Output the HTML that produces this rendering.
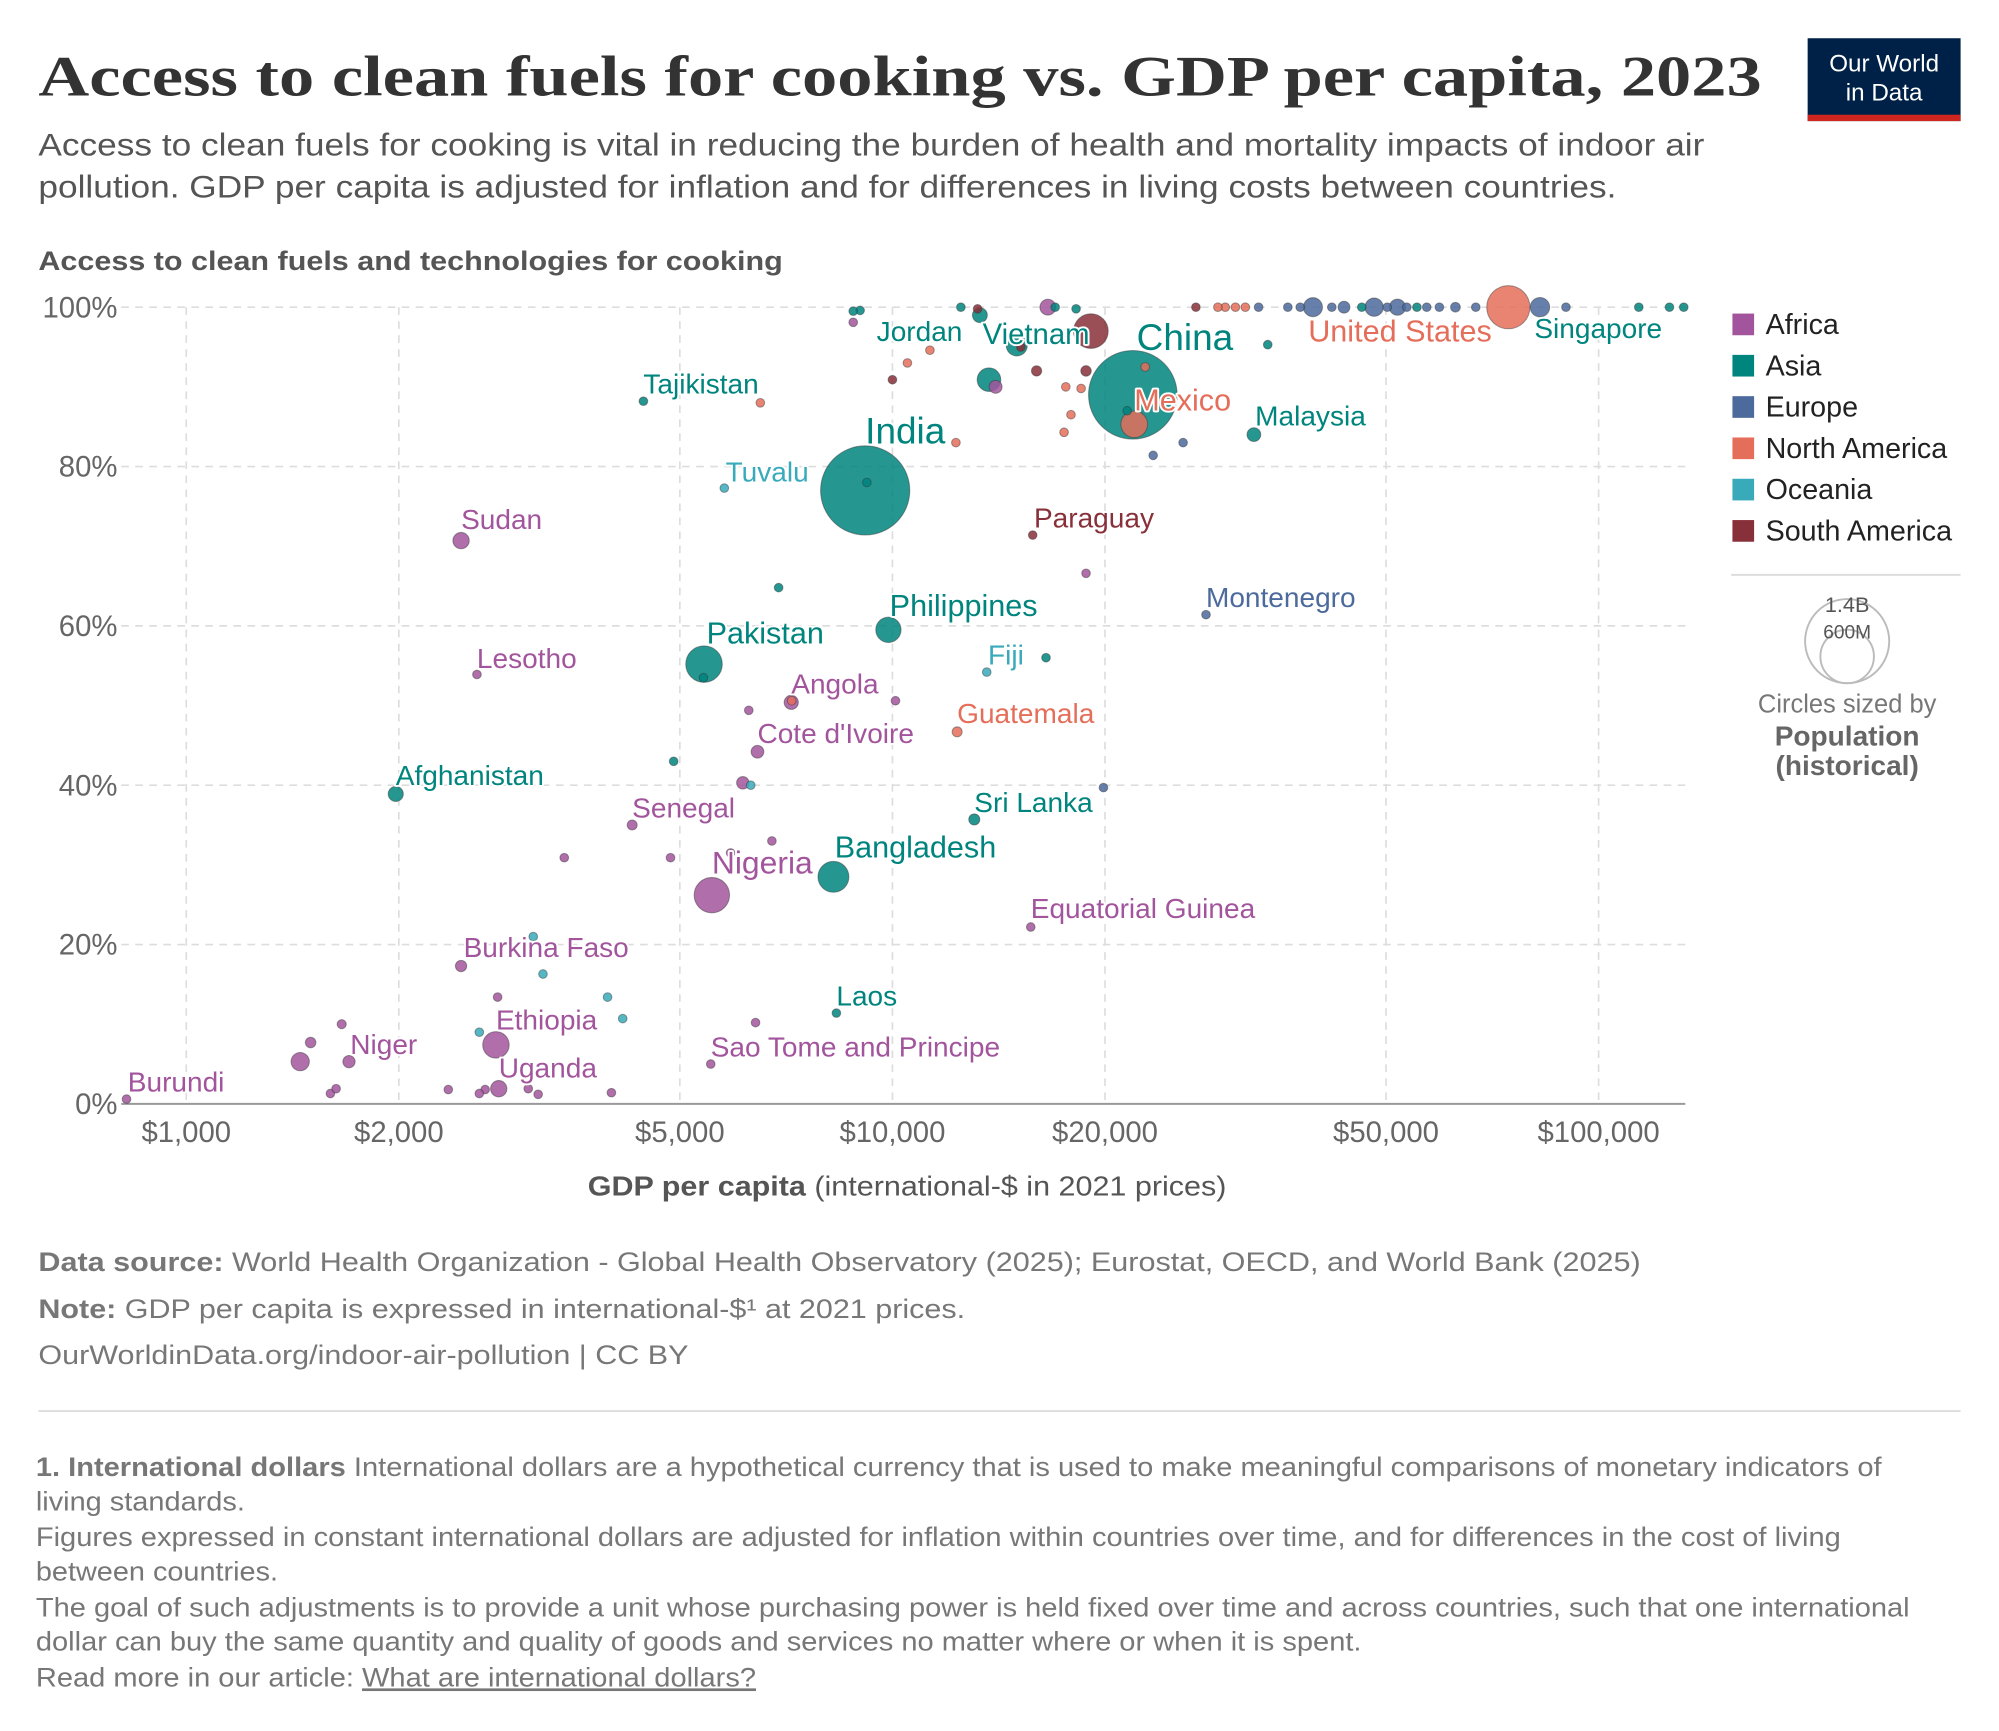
<!DOCTYPE html>
<html><head><meta charset="utf-8"><style>
html,body{margin:0;padding:0;background:#fff;}
svg{display:block;font-family:"Liberation Sans",sans-serif;}
</style></head><body>
<svg id="chart" width="1999" height="1731" viewBox="0 0 1568 1358" xmlns="http://www.w3.org/2000/svg">
<text x="30" y="75" font-family="Liberation Serif, serif" font-weight="bold" font-size="45" fill="#333" textLength="1352" lengthAdjust="spacingAndGlyphs">Access to clean fuels for cooking vs. GDP per capita, 2023</text>
<g>
<rect x="1418" y="30" width="120" height="65" fill="#002147"/>
<rect x="1418" y="90" width="120" height="5" fill="#ce261e"/>
<text x="1478" y="56" text-anchor="middle" font-size="19" fill="#fff">Our World</text>
<text x="1478" y="79" text-anchor="middle" font-size="19" fill="#fff">in Data</text>
</g>
<text x="30" y="122" font-size="25" fill="#555" textLength="1307" lengthAdjust="spacingAndGlyphs">Access to clean fuels for cooking is vital in reducing the burden of health and mortality impacts of indoor air</text>
<text x="30" y="155" font-size="25" fill="#555" textLength="1238" lengthAdjust="spacingAndGlyphs">pollution. GDP per capita is adjusted for inflation and for differences in living costs between countries.</text>
<text x="30" y="212" font-size="21" font-weight="bold" fill="#555" textLength="584" lengthAdjust="spacingAndGlyphs">Access to clean fuels and technologies for cooking</text>
<g id="grid"></g>
<g id="points"></g>
<g id="labels"></g>
<text x="461" y="938" font-size="22" fill="#555" textLength="501" lengthAdjust="spacingAndGlyphs"><tspan font-weight="bold">GDP per capita</tspan> (international-$ in 2021 prices)</text>
<g id="legend"></g>
<line x1="1358" y1="451" x2="1538" y2="451" stroke="#ddd" stroke-width="1.5"/>
<g>
<circle cx="1449" cy="503" r="33" fill="none" stroke="#bbb" stroke-width="1.5"/>
<circle cx="1449" cy="515" r="21" fill="none" stroke="#bbb" stroke-width="1.5"/>
<text x="1449" y="480" text-anchor="middle" font-size="17" fill="#555">1.4B</text>
<text x="1449" y="501" text-anchor="middle" font-size="15" fill="#555">600M</text>
<text x="1449" y="559" text-anchor="middle" font-size="20" fill="#777">Circles sized by</text>
<text x="1449" y="585" text-anchor="middle" font-size="22" font-weight="bold" fill="#666">Population</text>
<text x="1449" y="608" text-anchor="middle" font-size="22" font-weight="bold" fill="#666">(historical)</text>
</g>
<g font-size="21" fill="#777">
<text x="30" y="997" textLength="1257" lengthAdjust="spacingAndGlyphs"><tspan font-weight="bold">Data source:</tspan> World Health Organization - Global Health Observatory (2025); Eurostat, OECD, and World Bank (2025)</text>
<text x="30" y="1034" textLength="727" lengthAdjust="spacingAndGlyphs"><tspan font-weight="bold">Note:</tspan> GDP per capita is expressed in international-$¹ at 2021 prices.</text>
<text x="30" y="1070" textLength="510" lengthAdjust="spacingAndGlyphs">OurWorldinData.org/indoor-air-pollution | CC BY</text>
<line x1="30" y1="1107" x2="1538" y2="1107" stroke="#ddd" stroke-width="1.5"/>
<text x="28" y="1158" textLength="1448" lengthAdjust="spacingAndGlyphs"><tspan font-weight="bold">1. International dollars</tspan> International dollars are a hypothetical currency that is used to make meaningful comparisons of monetary indicators of</text>
<text x="28" y="1185" textLength="164" lengthAdjust="spacingAndGlyphs">living standards.</text>
<text x="28" y="1213" textLength="1416" lengthAdjust="spacingAndGlyphs">Figures expressed in constant international dollars are adjusted for inflation within countries over time, and for differences in the cost of living</text>
<text x="28" y="1240" textLength="190" lengthAdjust="spacingAndGlyphs">between countries.</text>
<text x="28" y="1268" textLength="1470" lengthAdjust="spacingAndGlyphs">The goal of such adjustments is to provide a unit whose purchasing power is held fixed over time and across countries, such that one international</text>
<text x="28" y="1295" textLength="1040" lengthAdjust="spacingAndGlyphs">dollar can buy the same quantity and quality of goods and services no matter where or when it is spent.</text>
<text x="28" y="1323" textLength="565" lengthAdjust="spacingAndGlyphs">Read more in our article: <tspan text-decoration="underline">What are international dollars?</tspan></text>
</g>
</svg>
<script>
const xTicks = [1000, 2000, 5000, 10000, 20000, 50000, 100000];
const xTickLabels = ["$1,000", "$2,000", "$5,000", "$10,000", "$20,000", "$50,000", "$100,000"];
const yTicks = [0, 20, 40, 60, 80, 100];
const yTickLabels = ["0%", "20%", "40%", "60%", "80%", "100%"];
const regions = ["Africa", "Asia", "Europe", "North America", "Oceania", "South America"];
const regionColors = ["#a2559c", "#00847e", "#4c6a9c", "#e56e5a", "#38aaba", "#883039"];
const names = ["Burundi","Niger","Ethiopia","Uganda","Burkina Faso","Sao Tome and Principe","Laos","Senegal","Nigeria","Bangladesh","Sri Lanka","Equatorial Guinea","Afghanistan","Cote d'Ivoire","Angola","Guatemala","Lesotho","Pakistan","Philippines","Fiji","Montenegro","Sudan","Tuvalu","India","Paraguay","Tajikistan","Malaysia","Mexico","China","Jordan","Vietnam","United States","Singapore"];
const gdp = [823,1700,2745,2770,2450,5530,8330,4280,5550,8250,13060,15700,1980,6440,7190,12350,2580,5410,9870,13600,27800,2450,5780,9150,15800,4440,32500,22000,21900,9000,13700,74500,126000,
1500,1450,1660,1630,1600,2350,2600,3050,3150,4000,2760,6400,3430,4850,6750,5900,6140,6260,10100,18800,8800,16600,14000,2650,
4900,5400,16500,6900,34000,21500,13300,12500,18200,17000,9200,8800,
3200,2600,3950,4150,6300,3100,
16000,18800,10000,15200,19100,26900,13200,7200,
12300,17500,17900,10500,11300,6500,18500,22800,17600,28900,
23400,25800,19900,15000,39400,46200,50200,53500,57100,62700,67000,82600,89900,114000,132000,29600,30600,31600,33000,36300,37800,41900,43600,48100,51900,55300,59500];
const access = [0.6,5.3,7.4,1.9,17.3,5,11.4,35,26.2,28.5,35.7,22.2,38.9,44.2,50.4,46.7,53.9,55.2,59.5,54.2,61.4,70.7,77.3,77,71.4,88.2,84,85.3,89,99.6,90.9,100,100,
7.7,5.3,10,1.9,1.3,1.8,1.3,1.9,1.2,1.4,13.4,10.2,30.9,30.9,33,31.5,40.3,49.4,50.6,66.6,98.1,100,90,1.8,
43,53.5,56,64.8,95.3,87,99,100,99.8,100,78,99.5,
16.3,9,13.4,10.7,40,21,
92,92,90.9,95,97,100,99.8,50.6,
83,84.3,86.5,93,94.6,88,89.8,92.5,90,100,
81.4,83,39.7,95.2,100,100,100,100,100,100,100,100,100,100,100,100,100,100,100,100,100,100,100,100,100,100,100];
const pop = [13,27,126,48,23,0.2,7.6,18,225,172,22,1.7,41,29,36,18,2.3,240,115,0.9,0.6,48,0.01,1430,6.8,10,34,128,1410,11,100,335,6,
20,60,15,10,13,5,12,8,5,5,4,4,3,3,12,6,28,3,4,2.5,3,45,30,13,
3,6,1,0.5,0.8,3,40,9,5,1,1,1,
1,1,1,1,1,1,
19,20,8,5,216,3,3,2,
13,4,4,3,1,1,4,2,2,2,
3,2,2,80,65,10,5,4,9,17,6,68,3,1,0.5,11,5,10,5,5,8,10,25,60,47,8,3];
const region = [0,0,0,0,0,0,1,0,0,1,1,0,1,0,0,3,0,1,1,4,2,0,4,1,5,1,1,3,1,1,1,3,1,
0,0,0,0,0,0,0,0,0,0,0,0,0,0,0,0,0,0,0,0,0,0,0,0,
1,1,1,1,1,1,1,1,1,1,1,1,
4,4,4,4,4,4,
5,5,5,5,5,5,5,3,
3,3,3,3,3,3,3,3,3,3,
2,2,2,1,2,1,2,2,2,2,2,2,2,1,1,3,3,3,2,2,2,2,2,2,2,1,2];
const labelOffsets = {"Burundi":[1,-6,22],"Niger":[1,-6,22],"Ethiopia":[0,-12,22],"Uganda":[0,-9,22],"Burkina Faso":[2,-7,22],"Sao Tome and Principe":[0,-6,22],"Laos":[0,-6,22],"Senegal":[0,-6,22],"Nigeria":[0,-17,25],"Bangladesh":[1,-15,24],"Sri Lanka":[0,-6,22],"Equatorial Guinea":[0,-7,22],"Afghanistan":[0,-7,22],"Cote d'Ivoire":[0,-7,22],"Angola":[0,-7,22],"Guatemala":[0,-7,22],"Lesotho":[0,-5,22],"Pakistan":[2,-16,24],"Philippines":[1,-11,24],"Fiji":[1,-6,22],"Montenegro":[0,-6,22],"Sudan":[0,-9,22],"Tuvalu":[1,-5,22],"India":[0,-37,29],"Paraguay":[1,-6,22],"Tajikistan":[0,-6,22],"Malaysia":[1,-7,22],"Mexico":[0,-11,24],"China":[3,-35,29],"Jordan":[13,24,22],"Vietnam":[-5,-28,23],"United States":[-157,27,24],"Singapore":[-106,24,22]};
const X0 = 146, DEC = 554, Y0 = 866, Y100 = 241, XL = 95, XR = 1322;
function xScale(v){ return X0 + Math.log10(v/1000)*DEC; }
function yScale(v){ return Y0 - (v/100)*(Y0-Y100); }
function rScale(p){ return Math.max(3.4, 35*Math.sqrt(p/1430)); }
const NS = "http://www.w3.org/2000/svg";
function mk(tag, attrs, parent){ const e=document.createElementNS(NS,tag); for(const k in attrs) e.setAttribute(k,attrs[k]); parent.appendChild(e); return e; }
const grid = document.getElementById("grid");
yTicks.forEach((t,i)=>{
  const y=yScale(t);
  if(t>0){ const l=mk("line",{x1:XL,x2:XR,y1:y,y2:y,stroke:"#ddd","stroke-dasharray":"6,5","stroke-width":1.3},grid);
      }
  const tx=mk("text",{x:92,y:y+8,"text-anchor":"end","font-size":23,fill:"#666"},grid);
  
  
  tx.textContent=yTickLabels[i];
});
xTicks.forEach((t,i)=>{
  const x=xScale(t);
  const l=mk("line",{x1:x,x2:x,y1:Y100,y2:Y0,stroke:"#ddd","stroke-dasharray":"6,5","stroke-width":1.3},grid);
  
  
  const tx=mk("text",{x:x,y:896,"text-anchor":"middle","font-size":23,fill:"#666"},grid);
  
  
  tx.textContent=xTickLabels[i];
});
const ax=mk("line",{x1:XL,x2:XR,y1:Y0,y2:Y0,stroke:"#999","stroke-width":1.5},grid);


const pts=document.getElementById("points");
const order=gdp.map((_,i)=>i).sort((a,b)=>pop[b]-pop[a]);
order.forEach(i=>{
  const c=mk("circle",{cx:xScale(gdp[i]),cy:yScale(access[i]),r:rScale(pop[i]),fill:regionColors[region[i]],"fill-opacity":0.85,stroke:"#333","stroke-opacity":0.45,"stroke-width":0.8},pts);
  
  
});
const lbl=document.getElementById("labels");
names.forEach((n,i)=>{
  if(!n||!labelOffsets[n]) return;
  const o=labelOffsets[n];
  const t=mk("text",{x:xScale(gdp[i])+o[0],y:yScale(access[i])+o[1],"font-size":o[2],fill:regionColors[region[i]],stroke:"#fff","stroke-width":3,"paint-order":"stroke","stroke-linejoin":"round"},lbl);
  
  
  t.textContent=n;
});
const lg=document.getElementById("legend");
regions.forEach((r,i)=>{
  const y=254+i*32.4;
  const g=mk("g",{},lg);
  
  
  mk("rect",{x:1359,y:y-8,width:17,height:17,fill:regionColors[i]},g);
  const t=mk("text",{x:1385,y:y+8,"font-size":22.5,fill:"#222"},g);
  t.textContent=r;
});
</script>
</body></html>
